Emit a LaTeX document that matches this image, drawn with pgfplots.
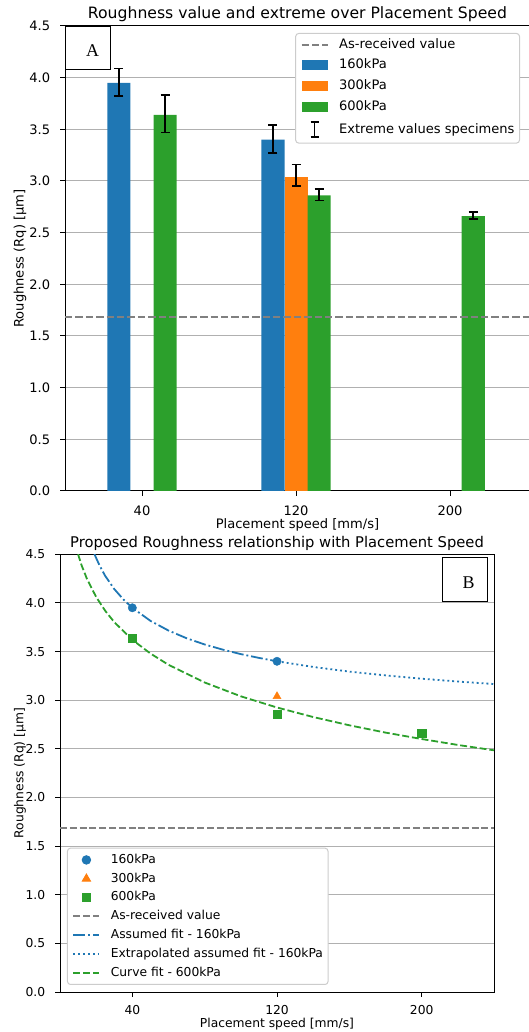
\documentclass[border=0pt]{standalone}
\usepackage{pgfplots}
\pgfplotsset{compat=1.18}
\usepackage{fontspec}
\setmainfont{DejaVu Sans}
\newfontfamily\serifA{Liberation Serif}
\definecolor{tabblue}{HTML}{1F77B4}
\definecolor{taborange}{HTML}{FF7F0E}
\definecolor{tabgreen}{HTML}{2CA02C}
\definecolor{gridgray}{HTML}{B0B0B0}
\definecolor{leggray}{HTML}{CCCCCC}
\newcommand\fsz{\fontsize{13.1}{15}\selectfont}
\newcommand\ftitle{\fontsize{15.7}{18}\selectfont}
\newcommand\fszb{\fontsize{12.35}{14}\selectfont}
\newcommand\ftitleb{\fontsize{14.8}{17}\selectfont}
\pgfplotsset{
  mpl/.style={
    scale only axis,
    ymin=0, ymax=4.5,
    ytick={0,0.5,1,1.5,2,2.5,3,3.5,4,4.5},
    yticklabels={0.0,0.5,1.0,1.5,2.0,2.5,3.0,3.5,4.0,4.5},
    xtick={40,120,200}, xticklabels={40,120,200},
    ymajorgrids, major grid style={gridgray, line width=1bp},
    axis line style={black, line width=1bp},
    tick align=outside, major tick length=4.6bp,
    tick style={black, line width=1bp},
    xtick pos=left, ytick pos=left,
    yticklabel style={anchor=east, inner sep=0pt, xshift=-10bp},
    legend cell align=left,
    legend style={draw=leggray, fill=white, rounded corners=3bp, line width=1bp,
      inner xsep=5bp, inner ysep=5bp, column sep=10.5bp},
    legend image code/.code={\draw[sharp corners, mark repeat=2, mark phase=2] plot coordinates {(0bp,0bp) (13bp,0bp) (26bp,0bp)};},
  },
  barleg/.style={legend image code/.code={\fill[#1, sharp corners] (0bp,-5bp) rectangle (26bp,5bp);}},
  ebar/.style={error bars/.cd, y dir=both, y explicit,
      error bar style={draw=black, line width=1.6bp, solid},
      error mark options={draw=black, rotate=90, mark size=4.5bp, line width=1.6bp, solid}},
}
\begin{document}
\begin{tikzpicture}
\useasboundingbox (0,0) rectangle (529bp,1032bp);
% ---------------- Top chart ----------------
\begin{axis}[mpl,
  at={(65bp,541bp)}, anchor=south west,
  width=465bp, height=465bp,
  xmin=0, xmax=241.5,
  ticklabel style={font=\fsz},
  xticklabel style={anchor=base, inner sep=0pt, yshift=-20bp},
  label style={font=\fsz},
  xlabel style={at={(axis description cs:0.5,0)}, anchor=center, yshift=-34bp},
  ylabel style={at={(axis description cs:-0.0968,0.5)}, anchor=center},
  title style={font=\ftitle, at={(axis description cs:0.5,1)}, anchor=base, yshift=1.7bp},
  title={Roughness value and extreme over Placement Speed},
  xlabel={Placement speed [mm/s]},
  ylabel={Roughness (Rq) [µm]},
  legend style={font=\fsz, at={(axis description cs:0.9785,0.985)}, anchor=north east, row sep=8.55bp,
      nodes={inner sep=0pt, text height=9.6bp, text depth=2.6bp}},
]
\addlegendimage{color=gray, line width=1.9bp, dash pattern=on 7.3bp off 3.1bp}
\addlegendentry{As-received value}
\addplot[ybar, bar width=12, bar shift=0pt, fill=tabblue, draw=none, barleg=tabblue, ebar]
  coordinates {(28,3.95) += (0,0.14) -= (0,0.13) (108,3.40) += (0,0.14) -= (0,0.13)};
\addlegendentry{160kPa}
\addplot[ybar, bar width=12, bar shift=0pt, fill=taborange, draw=none, barleg=taborange, ebar]
  coordinates {(120,3.04) += (0,0.12) -= (0,0.09)};
\addlegendentry{300kPa}
\addplot[ybar, bar width=12, bar shift=0pt, fill=tabgreen, draw=none, barleg=tabgreen, ebar]
  coordinates {(52,3.64) += (0,0.19) -= (0,0.17) (132,2.86) += (0,0.06) -= (0,0.05) (212,2.66) += (0,0.04) -= (0,0.03)};
\addlegendentry{600kPa}
\addlegendimage{legend image code/.code={\draw[black, line width=1.6bp, sharp corners] (13bp,-7.5bp)--(13bp,7.5bp) (9bp,-7.5bp)--(17bp,-7.5bp) (9bp,7.5bp)--(17bp,7.5bp);}}
\addlegendentry{Extreme values specimens}
\addplot[color=gray, line width=1.9bp, dash pattern=on 7.3bp off 3.1bp, forget plot]
  coordinates {(0,1.68) (241.5,1.68)};
\node[draw=black, line width=1bp, fill=white, minimum width=45bp, minimum height=43bp, anchor=north west, inner sep=0pt] (boxA) at (rel axis cs:0,1) {};
\node[font=\serifA\fontsize{18}{20}\selectfont, anchor=base, inner sep=0pt] at ([xshift=4.5bp, yshift=-8.8bp]boxA.center) {A};
\end{axis}
% ---------------- Bottom chart ----------------
\begin{axis}[mpl,
  at={(60bp,40bp)}, anchor=south west,
  width=434bp, height=437.7bp,
  xmin=0, xmax=240,
  ticklabel style={font=\fszb},
  xticklabel style={anchor=base, inner sep=0pt, yshift=-18.3bp},
  label style={font=\fszb},
  xlabel style={at={(axis description cs:0.5,0)}, anchor=center, yshift=-32.5bp},
  ylabel style={at={(axis description cs:-0.0922,0.5)}, anchor=center},
  title style={font=\ftitleb, at={(axis description cs:0.5,1)}, anchor=base, yshift=1.3bp},
  title={Proposed Roughness relationship with Placement Speed},
  xlabel={Placement speed [mm/s]},
  ylabel={Roughness (Rq) [µm]},
  legend style={font=\fszb, at={(axis description cs:0.0161,0.016)}, anchor=south west, row sep=7.3bp, inner ysep=6bp,
      nodes={inner sep=0pt, text height=9.05bp, text depth=2.45bp}},
]
\addplot[only marks, mark=*, mark size=4.2bp, color=tabblue] coordinates {(40,3.95) (120,3.40)};
\addlegendentry{160kPa}
\addplot[only marks, mark=triangle*, mark size=4.6bp, color=taborange] coordinates {(120,3.04)};
\addlegendentry{300kPa}
\addplot[only marks, mark=square*, mark size=4.1bp, color=tabgreen] coordinates {(40,3.64) (120,2.86) (200,2.66)};
\addlegendentry{600kPa}
\addplot[color=gray, line width=1.85bp, dash pattern=on 6.9bp off 2.9bp, mark=none] coordinates {(0,1.69) (240,1.69)};
\addlegendentry{As-received value}
\addplot[color=tabblue, line width=1.8bp, dash pattern=on 11.9bp off 2.9bp on 1.9bp off 2.9bp, mark=none]
  coordinates {(19,4.503) (22,4.380) (25,4.278) (30,4.143) (35,4.037) (40,3.950) (50,3.816) (60,3.716) (70,3.637) (80,3.573) (90,3.520) (100,3.474) (110,3.435) (120,3.400)};
\addlegendentry{Assumed fit - 160kPa}
\addplot[color=tabblue, line width=1.8bp, dash pattern=on 1.9bp off 3.0bp, mark=none]
  coordinates {(120,3.400) (140,3.342) (160,3.294) (180,3.255) (200,3.221) (220,3.192) (240,3.166)};
\addlegendentry{Extrapolated assumed fit - 160kPa}
\addplot[color=tabgreen, line width=1.8bp, dash pattern=on 6.9bp off 2.9bp, mark=none]
  coordinates {(10,4.500) (12,4.384) (15,4.243) (20,4.061) (25,3.919) (30,3.803) (40,3.621) (50,3.480) (60,3.364) (80,3.182) (100,3.040) (120,2.925) (140,2.827) (160,2.742) (180,2.667) (200,2.601) (220,2.540) (240,2.485)};
\addlegendentry{Curve fit - 600kPa}
\node[draw=black, line width=1bp, fill=white, minimum width=45bp, minimum height=44bp, anchor=north east, inner sep=0pt] (boxB) at ([xshift=-6bp, yshift=-3bp]rel axis cs:1,1) {};
\node[font=\serifA\fontsize{18}{20}\selectfont, anchor=base, inner sep=0pt] at ([xshift=3.5bp, yshift=-8.7bp]boxB.center) {B};
\end{axis}
\end{tikzpicture}
\end{document}
